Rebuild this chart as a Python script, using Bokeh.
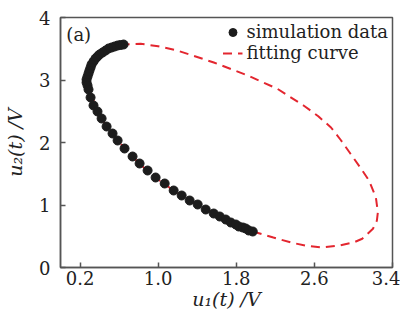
from bokeh.plotting import figure
from bokeh.models import Range1d, FixedTicker, NumeralTickFormatter, Legend, LegendItem, Label
from bokeh.embed import file_html
from bokeh.resources import INLINE

# simulation data
sim_x = [0.646, 0.615, 0.585, 0.554, 0.523, 0.492, 0.462, 0.431, 0.400, 0.379,
         0.359, 0.338, 0.318, 0.308, 0.297, 0.287, 0.277, 0.267, 0.267, 0.277,
         0.287, 0.308, 0.338, 0.379, 0.421, 0.472, 0.533, 0.585, 0.656, 0.738,
         0.810, 0.892, 0.974, 1.067, 1.159, 1.241, 1.323, 1.405, 1.487, 1.569,
         1.631, 1.692, 1.744, 1.795, 1.826, 1.867, 1.897, 1.928, 1.969]
sim_y = [3.568, 3.560, 3.552, 3.536, 3.520, 3.504, 3.472, 3.440, 3.408, 3.376,
         3.344, 3.296, 3.248, 3.200, 3.152, 3.104, 3.056, 3.008, 2.960, 2.912,
         2.848, 2.720, 2.592, 2.496, 2.384, 2.256, 2.144, 2.032, 1.904, 1.776,
         1.664, 1.552, 1.440, 1.344, 1.232, 1.152, 1.072, 1.008, 0.928, 0.864,
         0.816, 0.768, 0.720, 0.688, 0.656, 0.640, 0.624, 0.592, 0.576]

# fitting curve
fit_x = [1.97, 2.18, 2.36, 2.51, 2.68, 2.85, 3.00, 3.09, 3.20, 3.24, 3.25, 3.23,
         3.16, 3.07, 2.97, 2.87, 2.77, 2.64, 2.50, 2.22, 1.92, 1.57, 1.20, 1.00, 0.82,
         0.65, 0.46, 0.36, 0.30, 0.27, 0.27, 0.29, 0.34, 0.42, 0.53, 0.66, 0.81,
         0.97, 1.16, 1.32, 1.49, 1.69, 1.83, 1.97]
fit_y = [0.576, 0.48, 0.40, 0.35, 0.32, 0.35, 0.40, 0.46, 0.62, 0.75, 0.88, 1.12,
         1.39, 1.60, 1.82, 2.04, 2.24, 2.42, 2.58, 2.86, 3.07, 3.28, 3.47, 3.54, 3.58,
         3.57, 3.47, 3.34, 3.20, 3.06, 2.96, 2.85, 2.67, 2.38, 2.14, 1.90, 1.66,
         1.44, 1.23, 1.07, 0.93, 0.77, 0.66, 0.576]

x_ticks = [0.2, 1.0, 1.8, 2.6, 3.4]
y_ticks = [0, 1, 2, 3, 4]

FONT = "DejaVu Serif"
INK = "#222222"
FRAME = "#555555"

p = figure(width=400, height=317, output_backend="svg", toolbar_location=None,
           x_range=Range1d(0.0, 3.4), y_range=Range1d(0.0, 4.0),
           min_border_left=60, min_border_right=8, min_border_top=17, min_border_bottom=50)
p.background_fill_color = "white"
p.border_fill_color = "white"
p.grid.visible = False
p.outline_line_color = FRAME
p.outline_line_width = 1.5

r_fit = p.line(fit_x, fit_y, line_color="#e3262f", line_width=2, line_dash="9 6")
r_sim = p.scatter(sim_x, sim_y, size=9, color="#1c1c1c")

for ax in (p.xaxis[0], p.yaxis[0]):
    ax.major_tick_in = 5
    ax.major_tick_out = 0
    ax.minor_tick_in = 0
    ax.minor_tick_out = 0
    ax.axis_line_color = FRAME
    ax.axis_line_width = 1.5
    ax.major_tick_line_color = FRAME
    ax.major_tick_line_width = 1.5
    ax.major_label_text_font = FONT
    ax.major_label_text_font_size = "18px"
    ax.major_label_text_color = INK
    ax.axis_label_text_font = FONT
    ax.axis_label_text_font_size = "19px"
    ax.axis_label_text_font_style = "italic"
    ax.axis_label_text_color = INK

p.xaxis[0].ticker = FixedTicker(ticks=x_ticks)
p.xaxis[0].formatter = NumeralTickFormatter(format="0.0")
p.xaxis[0].major_label_standoff = 3
p.xaxis[0].axis_label = "u\u2081(t) /V"
p.xaxis[0].axis_label_standoff = 0
p.yaxis[0].ticker = FixedTicker(ticks=y_ticks)
p.yaxis[0].major_label_standoff = 10
p.yaxis[0].axis_label = "u\u2082(t) /V"
p.yaxis[0].axis_label_standoff = 10

legend = Legend(items=[LegendItem(label="simulation data", renderers=[r_sim]),
                       LegendItem(label="fitting curve", renderers=[r_fit])],
                location="top_right", background_fill_alpha=0, border_line_alpha=0,
                label_text_font=FONT, label_text_font_size="18px", label_text_color=INK,
                spacing=0, padding=4, margin=0, glyph_width=20, label_standoff=4,
                label_height=20)
p.add_layout(legend)

p.add_layout(Label(x=0.06, y=3.73, text="(a)", text_font=FONT, text_font_size="18px",
                   text_color=INK, text_baseline="middle"))

open("out.html", "w").write(file_html(p, INLINE))
